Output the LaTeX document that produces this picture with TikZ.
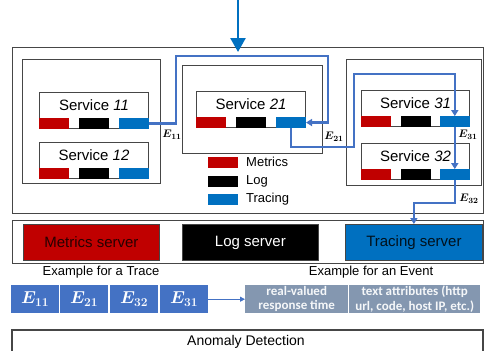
\documentclass[tikz,border=0pt]{standalone}
\usepackage{fontspec}
\setmainfont{Liberation Sans}
\newfontfamily\calib{Carlito}
\usepackage{amsmath,bm}
\usetikzlibrary{arrows.meta}
\definecolor{mred}{RGB}{192,0,0}
\definecolor{tblue}{RGB}{0,112,192}
\definecolor{pblue}{RGB}{68,114,196}
\definecolor{evgray}{RGB}{132,151,176}
\definecolor{framec}{RGB}{70,70,70}
\newcommand{\fs}[1]{\fontsize{#1}{#1}\selectfont}
\begin{document}
\begin{tikzpicture}[x=1pt,y=-1pt,
  frm/.style={draw=framec, line width=1.3pt, inner sep=0pt, anchor=north west},
  svc/.style={draw=framec, line width=1pt, inner sep=0pt, anchor=north west,
              minimum width=109pt, minimum height=36pt},
  bar/.style={inner sep=0pt, minimum width=30pt, minimum height=10.5pt},
  svclabel/.style={font=\fs{15}, inner sep=0pt},
  trace/.style={draw=pblue, line width=2.5pt, line join=miter,
                -{Triangle[length=6pt,width=7pt]}},
  elabel/.style={font=\fs{11}\boldmath, inner sep=0pt},
  server/.style={draw=framec, line width=0.8pt, inner sep=0pt, anchor=north west,
                 minimum width=136pt, minimum height=36pt, font=\fs{15}},
  tblock/.style={fill=pblue, inner sep=0pt, anchor=north west, minimum width=48pt,
                 minimum height=28pt, text=white, font=\fs{18}\boldmath},
  evblock/.style={fill=evgray, inner sep=0pt, anchor=north west, minimum height=28pt,
                  text=white!92!evgray, font=\calib\bfseries\fontsize{13}{14.5}\selectfont,
                  align=center},
  legtext/.style={font=\fs{13}, anchor=west, inner sep=0pt}
]
\useasboundingbox (0,0) rectangle (485,351);

% ---------- service area ----------
\node[frm, minimum width=471pt, minimum height=166pt] (area) at (12,47) {};

% group 1
\node[frm, line width=1pt, minimum width=138pt, minimum height=124pt] (g1) at (22,59) {};
\node[svc] (s11) at (39,92) {};
\node[svc] (s12) at (39,142) {};
% group 2
\node[frm, line width=1pt, minimum width=140pt, minimum height=88pt] (g2) at (182,65) {};
\node[svc] (s21) at (196,91) {};
% group 3
\node[frm, line width=1pt, minimum width=135pt, minimum height=126pt] (g3) at (346,59) {};
\node[svc, minimum width=108pt] (s31) at (361,90) {};
\node[svc, minimum width=108pt] (s32) at (361,143) {};

% service titles
\node[svclabel] (s11t) at ([yshift=-13pt]s11.north) {Service \textit{11}};
\node[svclabel] (s12t) at ([yshift=-13pt]s12.north) {Service \textit{12}};
\node[svclabel] (s21t) at ([yshift=-13pt]s21.north) {Service \textit{21}};
\node[svclabel] (s31t) at ([yshift=-13pt]s31.north) {Service \textit{31}};
\node[svclabel] (s32t) at ([yshift=-13pt]s32.north) {Service \textit{32}};

% metrics / log / tracing bars of each service
\foreach \s in {s11,s12,s21,s31,s32}{
  \node[bar, fill=mred, anchor=south west] (\s m) at (\s.south west) {};
  \node[bar, fill=black, anchor=south west] (\s l) at ([xshift=40pt]\s.south west) {};
  \node[bar, fill=tblue, anchor=south east] (\s b) at (\s.south east) {};
}

% legend
\node[bar, fill=mred, anchor=north west] (lgm) at (208,157) {};
\node[bar, fill=black, anchor=north west] (lgl) at (208,176) {};
\node[bar, fill=tblue, anchor=north west] (lgt) at (208,194) {};
\node[legtext] (lgmt) at (246,162) {Metrics};
\node[legtext] (lglt) at (246,181) {Log};
\node[legtext] (lgtt) at (246,199) {Tracing};

% incoming request
\coordinate (req) at (238,0);
\coordinate (reqend) at (238,52);
\draw[draw=tblue, line width=2.6pt, -{Triangle[length=14pt,width=15pt]}] (req) -- (reqend);

% trace route
\coordinate (r1) at (176,56);
\coordinate (r2) at (328,56);
\coordinate (r3) at (354,147);
\coordinate (r4) at (354,74);
\coordinate (r6) at (0,203);
\draw[trace] (s11b.east) -| (r1) -- (r2) |- (s21b.east);
\draw[trace] (s21b.south) |- (r3) -- (r4) -| (s31b.north);
\draw[trace] (s31b.south) -- (s32b.north);

% servers
\node[frm, minimum width=471pt, minimum height=43pt] (srv) at (12,220) {};
\node[server, fill=mred, text=black!80!mred] (ms) at (23,224) {Metrics server};
\node[server, fill=black, text=white] (ls) at (182,224) {Log server};
\node[server, fill=tblue, text=black!85!tblue, minimum width=137pt] (ts) at (345,224) {Tracing server};
\draw[trace] (s32b.south) |- (ts.north |- r6) -- (ts.north);

% event labels
\node[elabel] (l11) at (172,135) {$E_{11}$};
\node[elabel] (l21) at (334,137) {$E_{21}$};
\node[elabel] (l31) at (468,135) {$E_{31}$};
\node[elabel] (l32) at (469,199) {$E_{32}$};

% examples
\node[font=\fs{13}, inner sep=0pt] (ext) at (101,272) {Example for a Trace};
\node[font=\fs{13}, inner sep=0pt] (exe) at (371,272) {Example for an Event};
\node[tblock] (e11) at (11,285) {$E_{11}$};
\node[tblock] (e21) at (60,285) {$E_{21}$};
\node[tblock] (e32) at (110,285) {$E_{32}$};
\node[tblock] (e31) at (160,285) {$E_{31}$};
\node[evblock, minimum width=103pt] (ev1) at (245,285) {real-valued\\response time};
\node[evblock, minimum width=131pt] (ev2) at (349,285) {text attributes (http\\url, code, host IP, etc.)};
\draw[draw=pblue, line width=0.9pt, -{Triangle[length=5pt,width=5pt]}] (e31.east) -- (ev1.west);

% anomaly detection
\coordinate (ad1) at (12,351);
\coordinate (ad2) at (12,330);
\coordinate (ad3) at (483,330);
\coordinate (ad4) at (483,351);
\draw[draw=framec, line width=1.3pt] (ad1) -- (ad2) -- (ad3) -- (ad4);
\node[font=\fs{14}, inner sep=0pt] (adt) at (246,342) {Anomaly Detection};
\end{tikzpicture}
\end{document}
